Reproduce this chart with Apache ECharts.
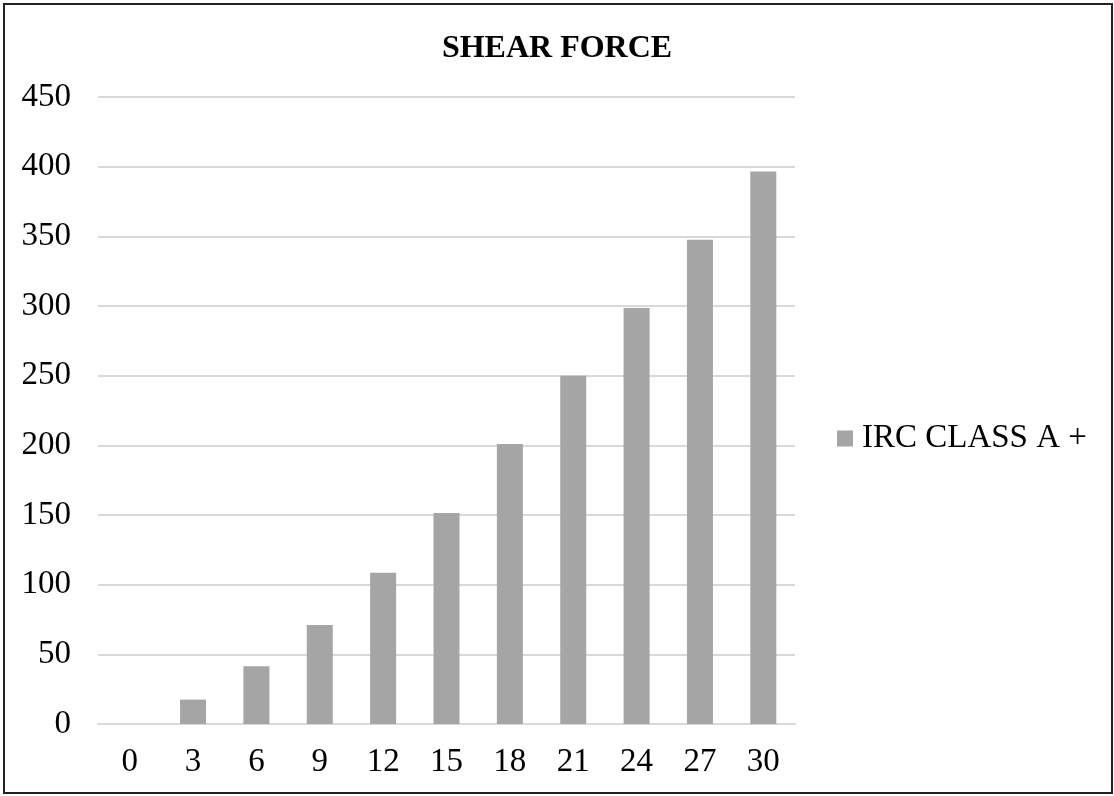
<!DOCTYPE html>
<html>
<head>
<meta charset="utf-8">
<script src="https://cdn.jsdelivr.net/npm/echarts@6/dist/echarts.min.js"></script>
<style>
html,body{margin:0;padding:0;background:#fff;}
#wrap{position:relative;width:1114px;height:796px;}
#frame{position:absolute;left:3px;top:3px;width:1110px;height:791px;border:2px solid #222;box-sizing:border-box;pointer-events:none;}
#chart{position:absolute;left:0;top:0;width:1114px;height:796px;}
</style>
</head>
<body>
<div id="wrap">
<div id="chart"></div>
<div id="frame"></div>
</div>
<script>
const titleText = 'SHEAR FORCE';
const seriesName = 'IRC CLASS A +';
const categories = ['0','3','6','9','12','15','18','21','24','27','30'];
const shearForce = [0, 17.5, 41.5, 71, 108.5, 151.5, 201, 250, 298.5, 347.5, 396.5];

const font = 'Liberation Serif';
const chart = echarts.init(document.getElementById('chart'), null, {renderer:'canvas'});
chart.setOption({
  animation:false,
  backgroundColor:'#fff',
  title:{
    text:titleText, left:'center', top:28,
    textStyle:{fontFamily:font, fontSize:32, fontWeight:'bold', color:'#000'}
  },
  legend:{
    left:832, top:417, itemWidth:16, itemHeight:16, itemGap:10,
    icon:'rect',
    textStyle:{fontFamily:font, fontSize:33, color:'#000', padding:[0,0,0,4]},
    data:[seriesName]
  },
  grid:{left:98, right:319, top:97, bottom:72, containLabel:false},
  xAxis:{
    type:'category', data:categories,
    axisLine:{show:true, lineStyle:{color:'#d9d9d9', width:2}},
    axisTick:{show:false},
    axisLabel:{fontFamily:font, fontSize:33, color:'#000', margin:22}
  },
  yAxis:{
    type:'value', min:0, max:450, interval:50,
    axisLine:{show:false}, axisTick:{show:false},
    splitLine:{lineStyle:{color:'#d9d9d9', width:2}},
    axisLabel:{fontFamily:font, fontSize:33, color:'#000', margin:27}
  },
  series:[{
    name:seriesName, type:'bar', data:shearForce, barWidth:26,
    itemStyle:{color:'#a5a5a5'}
  }]
});
</script>
</body>
</html>
